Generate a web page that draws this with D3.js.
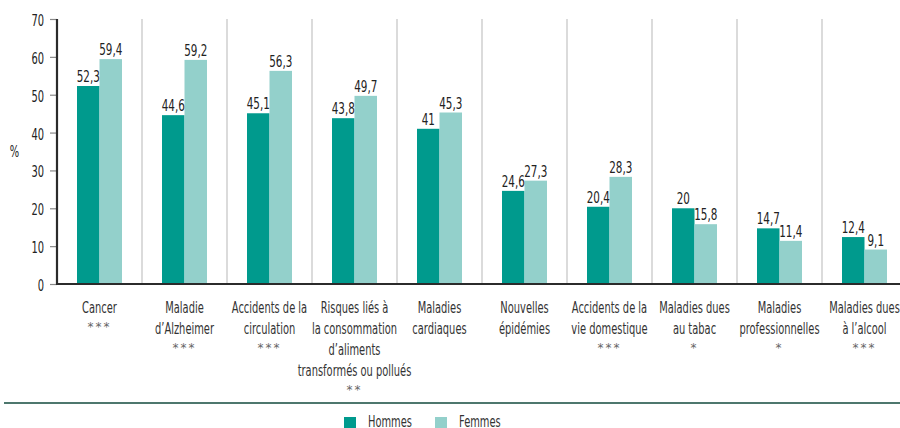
<!DOCTYPE html>
<html>
<head>
<meta charset="utf-8">
<script src="https://cdn.jsdelivr.net/npm/d3@7"></script>
<style>
  body { margin: 0; background: #fff; }
  svg text { font-family: "DejaVu Sans", sans-serif; }
</style>
</head>
<body>
<svg id="chart" width="900" height="428"></svg>
<script>
// category labels (one entry per line) and significance marks
var categories = [
    ['Cancer', '***'],
    ['Maladie', 'd\u2019Alzheimer', '***'],
    ['Accidents de la', 'circulation', '***'],
    ['Risques liés à', 'la consommation', 'd\u2019aliments', 'transformés ou pollués', '**'],
    ['Maladies', 'cardiaques'],
    ['Nouvelles', 'épidémies'],
    ['Accidents de la', 'vie domestique', '***'],
    ['Maladies dues', 'au tabac', '*'],
    ['Maladies', 'professionnelles', '*'],
    ['Maladies dues', 'à l\u2019alcool', '***']
];
var hommes = [52.3, 44.6, 45.1, 43.8, 41, 24.6, 20.4, 20, 14.7, 12.4];
var femmes = [59.4, 59.2, 56.3, 49.7, 45.3, 27.3, 28.3, 15.8, 11.4, 9.1];
var seriesNames = ['Hommes', 'Femmes'];
var yTicks = [0, 10, 20, 30, 40, 50, 60, 70];

var colors = { Hommes: '#009a8d', Femmes: '#93d0cb' };

var svg = d3.select('#chart');
var plotLeft = 57, plotTop = 19, plotBottom = 284;
var bandW = 85;
var squeeze = 0.6; // narrow the lettering like the condensed original
var fontSize = '16.5px';

var place = function(px, py, sx) {
    return 'translate(' + px + ',' + py + ') scale(' + (sx || squeeze) + ',1)';
};

var x = d3.scaleBand()
    .domain(d3.range(categories.length))
    .range([plotLeft, plotLeft + bandW * categories.length]);

var x1 = d3.scaleBand()
    .domain(seriesNames)
    .range([-22.5, 22.5]);

var y = d3.scaleLinear()
    .domain([0, 70])
    .range([plotBottom, plotTop]);

var fmt = function(v) { return String(v).replace('.', ','); };

// separators between categories
svg.append('g').selectAll('line')
    .data(d3.range(1, categories.length))
    .enter().append('line')
    .attr('x1', function(i) { return x(i); })
    .attr('x2', function(i) { return x(i); })
    .attr('y1', plotTop)
    .attr('y2', plotBottom)
    .attr('stroke', '#c8c8c8')
    .attr('stroke-width', 1.3);

// y axis
var yAxis = svg.append('g')
    .attr('transform', 'translate(' + plotLeft + ',0)')
    .call(d3.axisLeft(y).tickValues(yTicks).tickSize(7).tickPadding(6));
yAxis.select('.domain').remove();
yAxis.selectAll('.tick line').attr('stroke', '#888').attr('stroke-width', 1.2);
yAxis.selectAll('.tick text')
    .attr('x', null)
    .attr('dy', null)
    .attr('transform', place(-13, 6.5))
    .attr('fill', '#222')
    .style('font-size', fontSize);

svg.append('text')
    .attr('transform', place(14.5, 157))
    .attr('text-anchor', 'middle')
    .attr('fill', '#222')
    .style('font-size', fontSize)
    .text('%');

// bars
var rows = [];
categories.forEach(function(c, i) {
    rows.push({ i: i, s: 'Hommes', v: hommes[i] });
    rows.push({ i: i, s: 'Femmes', v: femmes[i] });
});

svg.append('g').selectAll('rect')
    .data(rows)
    .enter().append('rect')
    .attr('x', function(d) { return x(d.i) + x.bandwidth() / 2 + x1(d.s); })
    .attr('width', x1.bandwidth())
    .attr('y', function(d) { return y(d.v); })
    .attr('height', function(d) { return y(0) - y(d.v); })
    .attr('fill', function(d) { return colors[d.s]; });

svg.append('g').selectAll('text')
    .data(rows)
    .enter().append('text')
    .attr('transform', function(d) {
        return place(x(d.i) + x.bandwidth() / 2 + x1(d.s) + x1.bandwidth() / 2, y(d.v) - 4, 0.63);
    })
    .attr('text-anchor', 'middle')
    .attr('fill', '#222')
    .style('font-size', fontSize)
    .text(function(d) { return fmt(d.v); });

// axis lines
svg.append('line')
    .attr('x1', plotLeft).attr('x2', 900)
    .attr('y1', plotBottom).attr('y2', plotBottom)
    .attr('stroke', '#2b2b2b').attr('stroke-width', 2.2);
svg.append('line')
    .attr('x1', plotLeft).attr('x2', plotLeft)
    .attr('y1', plotTop).attr('y2', plotBottom + 1)
    .attr('stroke', '#2b2b2b').attr('stroke-width', 2.2);

// category labels, one text per line
var lines = [];
categories.forEach(function(c, i) {
    c.forEach(function(t, j) { lines.push({ i: i, j: j, t: t, star: t.charAt(0) === '*' }); });
});

svg.append('g').selectAll('text')
    .data(lines)
    .enter().append('text')
    .attr('transform', function(d) {
        var ly = 313 + d.j * 21;
        return d.star ? place(x(d.i) + x.bandwidth() / 2, ly - 3, 1)
                      : place(x(d.i) + x.bandwidth() / 2, ly);
    })
    .attr('text-anchor', 'middle')
    .attr('fill', function(d) { return d.star ? '#666' : '#333'; })
    .style('font-size', function(d) { return d.star ? '12px' : fontSize; })
    .style('letter-spacing', function(d) { return d.star ? '2px' : null; })
    .text(function(d) { return d.t; });

// bottom rule
svg.append('line')
    .attr('x1', 4).attr('x2', 900)
    .attr('y1', 403).attr('y2', 403)
    .attr('stroke', '#4d776d').attr('stroke-width', 2.2);

// legend
var legendX = [344, 435];
var legend = svg.append('g').selectAll('g')
    .data(seriesNames)
    .enter().append('g')
    .attr('transform', function(d, i) { return 'translate(' + legendX[i] + ',417)'; });
legend.append('rect')
    .attr('width', 12).attr('height', 11)
    .attr('fill', function(d) { return colors[d]; });
legend.append('text')
    .attr('transform', place(24, 10))
    .attr('fill', '#333')
    .style('font-size', fontSize)
    .text(function(d) { return d; });
</script>
</body>
</html>
